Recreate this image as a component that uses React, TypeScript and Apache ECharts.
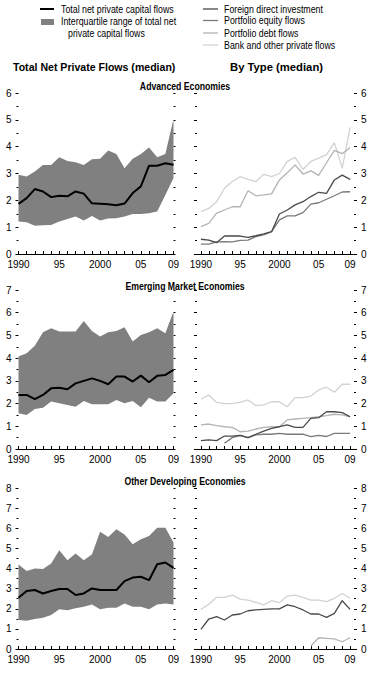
import React, { useEffect, useRef } from "react";
import * as echarts from "echarts";

const years = [1990, 1991, 1992, 1993, 1994, 1995, 1996, 1997, 1998, 1999, 2000, 2001, 2002, 2003, 2004, 2005, 2006, 2007, 2008, 2009];
const xLabelYears = [1990, 1995, 2000, 2005, 2009];
const xLabelTexts = ["1990", "95", "2000", "05", "09"];

const panelTitles = ["Advanced Economies", "Emerging Market Economies", "Other Developing Economies"];
const yMaxes = [6, 7, 8];

// Total net private flows (median) and interquartile range
const advMedian = [1.87, 2.08, 2.42, 2.33, 2.12, 2.17, 2.15, 2.33, 2.25, 1.89, 1.87, 1.85, 1.82, 1.88, 2.27, 2.52, 3.29, 3.29, 3.38, 3.33];
const advUpper = [2.95, 2.89, 3.07, 3.32, 3.32, 3.61, 3.47, 3.42, 3.32, 3.53, 3.55, 3.86, 3.73, 3.2, 3.55, 3.73, 3.97, 3.61, 3.73, 5.03];
const advLower = [1.21, 1.18, 1.05, 1.07, 1.08, 1.21, 1.3, 1.4, 1.25, 1.42, 1.25, 1.32, 1.33, 1.4, 1.49, 1.49, 1.52, 1.58, 2.2, 2.83];

const emMedian = [2.38, 2.38, 2.2, 2.38, 2.67, 2.7, 2.63, 2.89, 3.0, 3.11, 3.0, 2.85, 3.19, 3.19, 2.97, 3.23, 2.94, 3.22, 3.26, 3.48];
const emUpper = [4.07, 4.21, 4.55, 5.14, 5.32, 5.17, 5.17, 5.17, 5.64, 5.2, 4.95, 5.14, 5.2, 5.36, 4.73, 5.02, 5.14, 5.32, 5.1, 6.05];
const emLower = [1.57, 1.5, 1.76, 1.82, 2.09, 2.01, 1.94, 1.86, 2.11, 1.97, 1.97, 1.97, 2.16, 2.01, 2.11, 1.84, 2.26, 2.09, 2.09, 2.45];

const odMedian = [2.55, 2.88, 2.93, 2.76, 2.88, 2.98, 2.98, 2.68, 2.76, 3.01, 2.93, 2.93, 2.93, 3.37, 3.55, 3.59, 3.42, 4.21, 4.3, 4.03];
const odUpper = [4.2, 3.87, 4.0, 3.97, 4.25, 4.91, 4.41, 4.74, 4.41, 4.69, 5.82, 5.57, 5.95, 5.69, 5.21, 5.45, 5.62, 6.02, 6.02, 5.29];
const odLower = [1.44, 1.4, 1.49, 1.55, 1.69, 1.98, 1.93, 2.02, 2.1, 2.21, 1.97, 2.05, 2.05, 2.26, 2.1, 2.1, 1.98, 2.21, 2.26, 2.21];

// By type (median)
const advFdi = [0.55, 0.52, 0.42, 0.67, 0.67, 0.67, 0.62, 0.68, 0.75, 0.83, 1.49, 1.64, 1.83, 1.95, 2.14, 2.3, 2.26, 2.76, 2.94, 2.78];
const advEquity = [0.37, 0.37, 0.45, 0.46, 0.45, 0.51, 0.52, 0.65, 0.71, 0.83, 1.27, 1.42, 1.42, 1.54, 1.86, 1.91, 2.04, 2.17, 2.31, 2.32];
const advDebt = [1.02, 1.14, 1.52, 1.64, 1.76, 1.76, 2.36, 2.17, 2.2, 2.24, 2.76, 3.03, 3.32, 2.98, 3.1, 2.93, 3.4, 3.86, 3.74, 3.97];
const advBank = [1.58, 1.7, 1.95, 2.45, 2.7, 2.88, 2.78, 2.7, 2.97, 2.88, 3.0, 3.45, 3.6, 3.15, 3.45, 3.57, 3.7, 4.15, 3.2, 4.72];

const emFdi = [0.37, 0.4, 0.37, 0.57, 0.57, 0.6, 0.5, 0.65, 0.79, 0.91, 0.98, 1.06, 0.95, 0.95, 1.35, 1.38, 1.64, 1.64, 1.6, 1.42];
const emEquity = [null, null, null, 0.25, 0.5, 0.6, 0.5, 0.62, 0.65, 0.65, 0.69, 0.65, 0.65, 0.65, 0.54, 0.6, 0.55, 0.69, 0.69, 0.69];
const emDebt = [1.06, 1.1, 1.03, 0.98, 0.95, 0.76, 0.79, 0.88, 0.95, 0.98, 0.98, 1.28, 1.32, 1.35, 1.38, 1.42, 1.47, 1.53, 1.5, 1.42];
const emBank = [2.19, 2.38, 2.05, 2.0, 2.0, 2.05, 2.16, 1.91, 1.94, 2.08, 2.08, 1.86, 2.26, 2.26, 2.33, 2.6, 2.72, 2.5, 2.85, 2.85];

const odFdi = [0.98, 1.49, 1.61, 1.44, 1.69, 1.74, 1.9, 1.94, 1.97, 1.99, 1.99, 2.19, 2.1, 1.94, 1.74, 1.74, 1.57, 1.77, 2.4, 1.97];
const odEquity = [null, null, null, null, null, null, null, null, null, null, null, null, null, null, null, null, null, null, null, null];
const odDebt = [null, null, null, null, null, null, null, null, null, null, null, null, null, null, 0.15, 0.56, 0.53, 0.5, 0.36, 0.56];
const odBank = [1.97, 2.22, 2.57, 2.57, 2.68, 2.48, 2.43, 2.32, 2.19, 2.4, 2.3, 2.63, 2.68, 2.57, 2.43, 2.43, 2.35, 2.52, 2.76, 2.52];

const legendTotal = ["Total net private capital flows", "Interquartile range of total net", "private capital flows"];
const legendTypes = ["Foreign direct investment", "Portfolio equity flows", "Portfolio debt flows", "Bank and other private flows"];
const headings = ["Total Net Private Flows (median)", "By Type (median)"];

const FONT = "'Liberation Sans', Arial, sans-serif";
const typeColors = ["#4a4a4a", "#7a7a7a", "#b4b4b4", "#d2d2d2"];
const bandColor = "#808080";

const rows = [
  { top: 93, bottom: 254 },
  { top: 290, bottom: 449 },
  { top: 488, bottom: 649 },
];

const totals = [
  { median: advMedian, upper: advUpper, lower: advLower },
  { median: emMedian, upper: emUpper, lower: emLower },
  { median: odMedian, upper: odUpper, lower: odLower },
];
const byType = [
  [advFdi, advEquity, advDebt, advBank],
  [emFdi, emEquity, emDebt, emBank],
  [odFdi, odEquity, odDebt, odBank],
];

function pairs(vals: (number | null)[]) {
  return years.map((y, i) => [y, vals[i]]).filter((p) => p[1] !== null);
}

export default function App() {
  const ref = useRef<HTMLDivElement>(null);
  useEffect(() => {
    if (!ref.current) return;
    const chart = echarts.init(ref.current, null, { renderer: "svg" });

    const grids: any[] = [];
    const xAxes: any[] = [];
    const yAxes: any[] = [];
    const series: any[] = [];

    const xLabelMap: Record<string, string> = {};
    xLabelYears.forEach((y, i) => (xLabelMap[String(y)] = xLabelTexts[i]));

    const labelStyle = { color: "#000", fontSize: 10, fontFamily: FONT, lineHeight: 10 };

    const mkXCat = (gridIndex: number) => ({
      type: "category",
      gridIndex,
      data: years.map(String),
      boundaryGap: false,
      axisLine: { show: true, onZero: false, lineStyle: { color: "#000", width: 1 } },
      axisTick: { show: true, inside: true, length: 3, interval: 0, lineStyle: { color: "#000" } },
      axisLabel: {
        show: true,
        interval: (_i: number, v: string) => xLabelMap[v] !== undefined,
        formatter: (v: string) => xLabelMap[v] ?? "",
        margin: 5,
        ...labelStyle,
      },
      splitLine: { show: false },
    });

    const mkXVal = (gridIndex: number, min: number, max: number) => ({
      type: "value",
      gridIndex,
      min,
      max,
      axisLine: { show: true, onZero: false, lineStyle: { color: "#000", width: 1 } },
      axisTick: { show: true, inside: true, length: 3, customValues: years, lineStyle: { color: "#000" } },
      axisLabel: {
        show: true,
        customValues: xLabelYears,
        formatter: (v: number) => xLabelMap[String(v)] ?? "",
        margin: 5,
        ...labelStyle,
      },
      splitLine: { show: false },
    });

    const mkY = (gridIndex: number, max: number, position: string, labels: boolean, tickLen: number) => ({
      type: "value",
      gridIndex,
      position,
      min: 0,
      max,
      interval: 1,
      axisLine: { show: false },
      axisTick: { show: true, length: tickLen, lineStyle: { color: "#000", width: 1 } },
      minorTick: { show: true, splitNumber: 2, length: 2, lineStyle: { color: "#000", width: 1 } },
      axisLabel: { show: labels, margin: labels ? 7 : 0, ...labelStyle },
      splitLine: { show: false },
      minorSplitLine: { show: false },
    });

    rows.forEach((r, ri) => {
      const h = r.bottom - r.top;
      // left grid (total flows)
      const gl = grids.length;
      grids.push({ left: 18.5, top: r.top, width: 155, height: h });
      xAxes.push(mkXCat(gl));
      const yl = yAxes.length;
      yAxes.push(mkY(gl, yMaxes[ri], "left", true, 3));
      yAxes.push(mkY(gl, yMaxes[ri], "right", false, 2));
      // right grid (by type)
      const gr = grids.length;
      grids.push({ left: 197, top: r.top, width: 157, height: h });
      xAxes.push(mkXVal(gr, 1989.5, 2009.5));
      const yr = yAxes.length;
      yAxes.push(mkY(gr, yMaxes[ri], "left", false, 3));
      yAxes.push(mkY(gr, yMaxes[ri], "right", true, 3));

      const t = totals[ri];
      series.push({
        type: "line",
        xAxisIndex: gl,
        yAxisIndex: yl,
        stack: "band" + ri,
        data: t.lower,
        symbol: "none",
        lineStyle: { width: 0, opacity: 0 },
        silent: true,
        z: 1,
      });
      series.push({
        type: "line",
        xAxisIndex: gl,
        yAxisIndex: yl,
        stack: "band" + ri,
        data: t.upper.map((u, i) => +(u - t.lower[i]).toFixed(3)),
        symbol: "none",
        lineStyle: { width: 0, opacity: 0 },
        areaStyle: { color: bandColor, opacity: 1 },
        silent: true,
        z: 1,
      });
      series.push({
        type: "line",
        xAxisIndex: gl,
        yAxisIndex: yl,
        data: t.median,
        symbol: "none",
        lineStyle: { color: "#000", width: 2 },
        z: 3,
      });

      const bt = byType[ri];
      [3, 2, 1, 0].forEach((k) => {
        series.push({
          type: "line",
          xAxisIndex: gr,
          yAxisIndex: yr + 1,
          data: pairs(bt[k]),
          symbol: "none",
          lineStyle: { color: typeColors[k], width: 1.3 },
          z: 3 + (3 - k),
        });
      });
    });

    const txt = (text: string, x: number, y: number, size: number, bold: boolean, sx: number, align = "left") => ({
      type: "text",
      x,
      y,
      scaleX: sx,
      silent: true,
      style: {
        text,
        x: 0,
        y: 0,
        fill: "#000",
        fontSize: size,
        fontWeight: bold ? "bold" : "normal",
        fontFamily: FONT,
        align,
        textAlign: align,
        verticalAlign: "middle",
        textVerticalAlign: "middle",
      },
    });

    const graphics: any[] = [];
    // left legend
    graphics.push({ type: "line", shape: { x1: 40, y1: 9, x2: 54, y2: 9 }, style: { stroke: "#000", lineWidth: 2 } });
    graphics.push(txt(legendTotal[0], 61, 9, 10.5, false, 0.84));
    graphics.push({ type: "rect", shape: { x: 41, y: 19, width: 13, height: 6 }, style: { fill: bandColor } });
    graphics.push(txt(legendTotal[1], 61, 21.5, 10.5, false, 0.84));
    graphics.push(txt(legendTotal[2], 68, 33.5, 10.5, false, 0.84));
    // right legend
    const ly = [9, 20.5, 33, 45];
    legendTypes.forEach((s, i) => {
      graphics.push({ type: "line", shape: { x1: 203, y1: ly[i], x2: 218, y2: ly[i] }, style: { stroke: typeColors[i], lineWidth: 1.3 } });
      graphics.push(txt(s, 224, ly[i], 10.5, false, 0.84));
    });
    graphics.push(txt(headings[0], 13, 67, 11.5, true, 0.92));
    graphics.push(txt(headings[1], 230, 67, 11.5, true, 0.98));
    const titleY = [87, 287, 482];
    panelTitles.forEach((s, i) => graphics.push(txt(s, 185, titleY[i], 10, true, 0.87, "center")));

    chart.setOption({
      animation: false,
      backgroundColor: "#fff",
      grid: grids,
      xAxis: xAxes,
      yAxis: yAxes,
      series,
      graphic: graphics,
    });
    return () => chart.dispose();
  }, []);

  return <div ref={ref} style={{ position: "absolute", left: 0, top: 0, width: 380, height: 675, background: "#fff" }} />;
}
